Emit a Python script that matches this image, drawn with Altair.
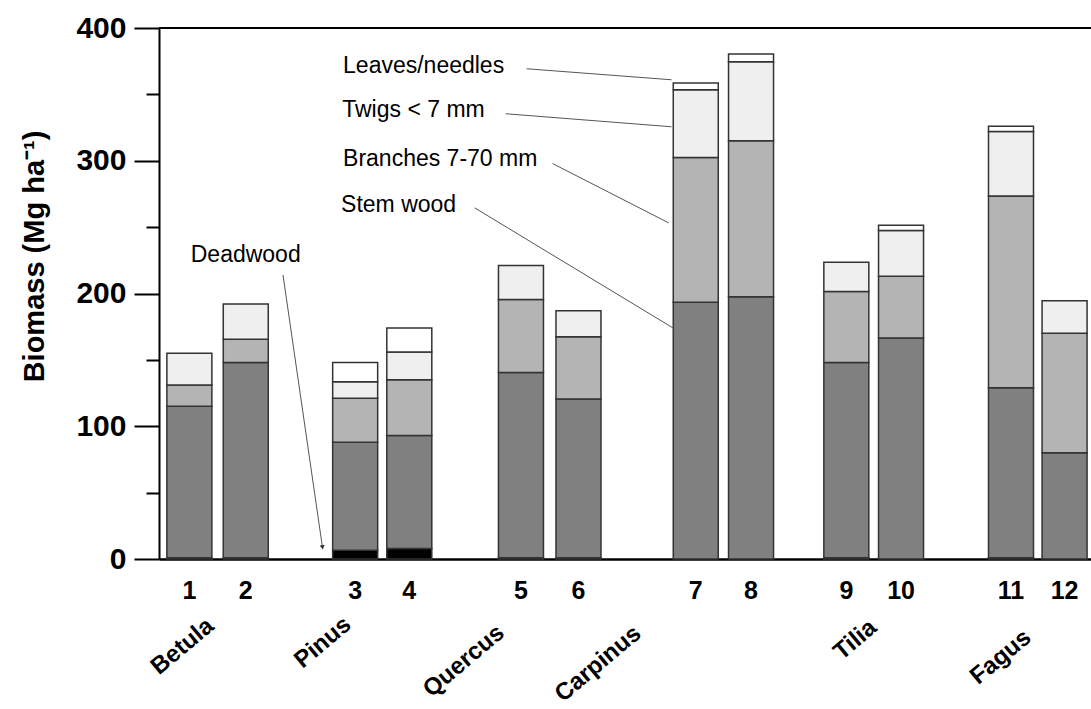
import altair as alt
import pandas as pd

# ---- data ----
bar_ids = [str(i) for i in range(1, 13)]
# bar centre positions along the x axis (arbitrary units, uneven spacing as in the figure)
xpos = [0.45, 1.45, 3.39, 4.35, 6.33, 7.35, 9.43, 10.41, 12.1, 13.07, 15.02, 15.97]

components = ["Deadwood", "Stem wood", "Branches 7-70 mm", "Twigs < 7 mm", "Leaves/needles"]
deadwood = [1, 1, 6.5, 8, 1, 1, 0, 0, 1, 0, 1, 0]
stem = [114, 147, 81.5, 85, 139.5, 119.5, 193.5, 197.5, 147, 166.5, 128, 80]
branches = [16, 17.5, 33, 42, 55, 47, 109, 117.5, 53.5, 46.5, 144.5, 90]
twigs = [24, 26.5, 12.5, 21, 25.5, 19.5, 51, 59.5, 22, 34.5, 48.5, 24.5]
leaves = [0, 0, 14.5, 18, 0, 0, 5, 6, 0, 4, 4, 0]

species = ["Betula", "Pinus", "Quercus", "Carpinus", "Tilia", "Fagus"]
species_x = [0.33, 2.82, 5.32, 7.70, 12.26, 14.84]
species_y = [-66, -63, -77, -79, -61, -74]

y_ticks = [0, 50, 100, 150, 200, 250, 300, 350, 400]

# annotation labels (text position and leader line start/end, in data units)
ann_text = ["Leaves/needles", "Twigs < 7 mm", "Branches 7-70 mm", "Stem wood", "Deadwood"]
ann_x = [3.175, 3.16, 3.175, 3.14, 0.474]
ann_y = [366.3, 333.1, 296.2, 261.5, 224.1]
lead_x = [6.43, 6.06, 6.89, 5.51, 2.11]
lead_y = [369.3, 335.4, 297.9, 264.5, 214.0]
lead_x2 = [9.0, 9.0, 8.95, 9.04, 2.81]
lead_y2 = [361.0, 325.6, 253.2, 173.7, 8.8]

fills = ["#000000", "#808080", "#b4b4b4", "#efefef", "#ffffff"]
FONT = "Liberation Sans"

# ---- tables ----
series = [deadwood, stem, branches, twigs, leaves]
rows = []
for i, b in enumerate(bar_ids):
    for k, (c, vals) in enumerate(zip(components, series)):
        if vals[i] > 0:
            rows.append({"bar": b, "xpos": xpos[i], "component": c, "k": k, "value": vals[i]})
df = pd.DataFrame(rows)

num_df = pd.DataFrame({"bar": bar_ids, "xpos": xpos, "y": [-30.4] * len(bar_ids)})
sp_df = pd.DataFrame({"name": species, "x": species_x, "y": species_y})
ann_df = pd.DataFrame({"text": ann_text, "x": ann_x, "y": ann_y})
lead_df = pd.DataFrame({"x": lead_x, "y": lead_y, "x2": lead_x2, "y2": lead_y2})
arrow_df = pd.DataFrame({"x": [lead_x2[-1]], "y": [lead_y2[-1]]})
top_df = pd.DataFrame({"v": [400]})

xscale = alt.Scale(domain=[0, 16.35], nice=False, zero=False)
yscale = alt.Scale(domain=[0, 400], nice=False)

x_axis = alt.Axis(labels=False, ticks=False, grid=False, title=None,
                  domainColor="black", domainWidth=2.5)
y_axis = alt.Axis(
    values=y_ticks,
    labelExpr="datum.value % 100 === 0 ? datum.label : ''",
    tickSize={"condition": {"test": "datum.value % 100 === 0", "value": 25}, "value": 13},
    tickColor="black", tickWidth=2, domainColor="black", domainWidth=2,
    labelFont=FONT, labelFontSize=30, labelFontWeight="bold", labelColor="black",
    labelPadding=8, grid=False,
    title="Biomass (Mg ha⁻¹)", titleFont=FONT, titleFontSize=29, titleFontWeight="bold",
    titleColor="black", titleAngle=270, titleX=-125, titleY=228,
    titleAlign="center", titleBaseline="middle",
)

bars = alt.Chart(df).mark_bar(size=45, stroke="#333333", strokeWidth=1.5).encode(
    x=alt.X("xpos:Q", scale=xscale, axis=x_axis),
    y=alt.Y("value:Q", stack="zero", scale=yscale, axis=y_axis),
    color=alt.Color("component:N", scale=alt.Scale(domain=components, range=fills), legend=None),
    order=alt.Order("k:Q"),
)

top_line = alt.Chart(top_df).mark_rule(color="black", strokeWidth=2).encode(
    y=alt.Y("v:Q", scale=yscale)
)

numbers = alt.Chart(num_df).mark_text(
    font=FONT, fontSize=25, fontWeight="bold", color="black", align="center", baseline="alphabetic"
).encode(x=alt.X("xpos:Q", scale=xscale), y=alt.Y("y:Q", scale=yscale), text="bar:N")

sp_labels = alt.Chart(sp_df).mark_text(
    font=FONT, fontSize=24, fontWeight="bold", color="black", align="center",
    baseline="middle", angle=320
).encode(x=alt.X("x:Q", scale=xscale), y=alt.Y("y:Q", scale=yscale), text="name:N")

ann = alt.Chart(ann_df).mark_text(
    font=FONT, fontSize=23, color="black", align="left", baseline="alphabetic"
).encode(x=alt.X("x:Q", scale=xscale), y=alt.Y("y:Q", scale=yscale), text="text:N")

leads = alt.Chart(lead_df).mark_rule(color="#555555", strokeWidth=1).encode(
    x=alt.X("x:Q", scale=xscale), y=alt.Y("y:Q", scale=yscale), x2="x2:Q", y2="y2:Q"
)

arrow = alt.Chart(arrow_df).mark_point(
    shape="triangle-down", filled=True, size=25, color="#333333", angle=352, opacity=1
).encode(x=alt.X("x:Q", scale=xscale), y=alt.Y("y:Q", scale=yscale))

chart = alt.layer(bars, top_line, leads, arrow, ann, numbers, sp_labels).properties(
    width=932, height=531,
    padding={"left": 159, "top": 28, "right": 0, "bottom": 150},
    autosize=alt.AutoSizeParams(type="none"),
).configure_view(stroke=None).configure(background="white")

chart.save("out.html", embed_options={"renderer": "svg", "actions": False})
